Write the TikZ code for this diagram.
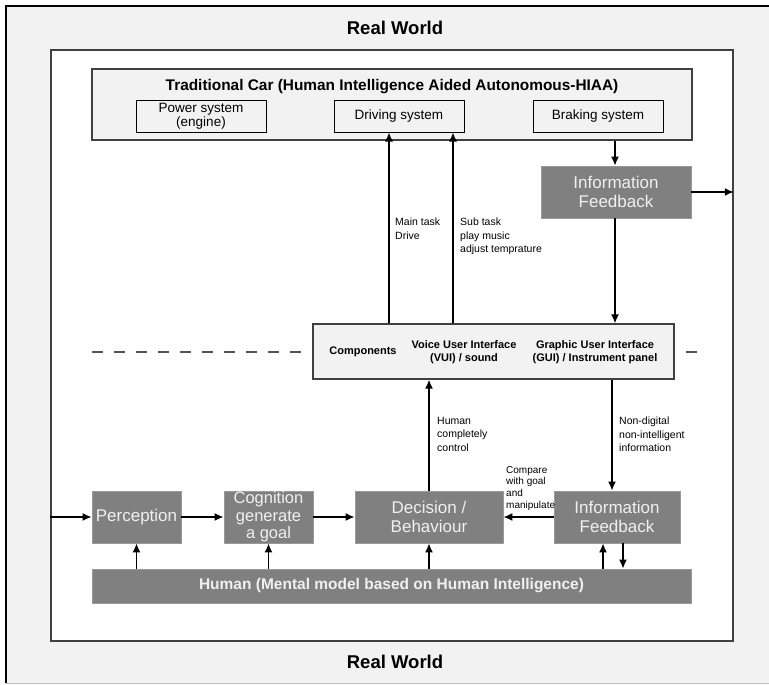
\documentclass[tikz,border=0pt]{standalone}
\usepackage{fontspec}
\setmainfont{Liberation Sans}
\usepackage{xcolor}
\usepackage{tikz}
\usetikzlibrary{arrows.meta}
\definecolor{bgGray}{HTML}{F2F2F2}
\definecolor{boxGray}{HTML}{808080}
\definecolor{lineGray}{HTML}{404040}
\definecolor{boxText}{HTML}{F0F0F0}

\begin{document}
\begin{tikzpicture}[x=1pt,y=-1pt]
	\tikzstyle{every node}=[font=\fontsize{10.5}{13.5}\selectfont, inner sep=0pt];
	\tikzstyle{worldtitle}=[font=\bfseries\fontsize{18.5}{20}\selectfont]
	\tikzstyle{lightbox}=[draw=lineGray, line width=1.3pt, fill=bgGray]
	\tikzstyle{subbox}=[draw=black, line width=1pt, fill=bgGray, minimum width=130pt, minimum height=31pt, align=center, font=\fontsize{13.5}{14}\selectfont]
	\tikzstyle{graybox}=[fill=boxGray, draw=boxGray!80!white, line width=0.8pt, minimum height=52pt, align=center, text=boxText, font=\fontsize{17}{19.5}\selectfont]
	\tikzstyle{arrow}=[-{Latex[length=9pt,width=8pt]}, line width=1.5pt]
	\tikzstyle{note}=[anchor=north west, align=left]
	\useasboundingbox (0,0) rectangle (769,685);
	
	%Real World
	\fill[bgGray] (6,6) rectangle (769,683);
	\draw[line width=1.6pt] (769,6) -- (6,6) -- (6,683);
	\draw[line width=1pt, lightgray] (6,683) -- (769,683);
	\node[worldtitle] (rwTop) at (395,28) {Real World};
	\node[worldtitle] (rwBot) at (395,662) {Real World};
	\node[draw=lineGray, line width=1.5pt, fill=white, minimum width=682pt, minimum height=591pt] (world) at (392,345.5) {};
	
	%Car
	\node[lightbox, minimum width=600pt, minimum height=71pt] (car) at (392,104.5) {};
	\node[font=\bfseries\fontsize{15.4}{17}\selectfont] (carTitle) at (392,87) {Traditional Car (Human Intelligence Aided Autonomous-HIAA)};
	\node[subbox] (power) at (201,116.5) {Power system\\(engine)};
	\node[subbox] (driving) at (399,116.5) {Driving system};
	\node[subbox] (braking) at (598,116.5) {Braking system};
	\node[graybox, minimum width=150pt] (infoTop) at (616,192) {Information\\Feedback};
	
	%Interface
	\coordinate (dashL) at (92,352);
	\coordinate (dashR) at (700,352);
	\draw[line width=1.6pt, lineGray!90!white, dash pattern=on 11pt off 11pt] (dashL) -- (dashR);
	\node[lightbox, minimum width=361pt, minimum height=55pt] (comp) at (493.5,351.5) {};
	\node[font=\bfseries\fontsize{11}{13.5}\selectfont] (compText) at (363,352) {Components};
	\node[font=\bfseries\fontsize{11}{13.5}\selectfont, align=center] (vui) at (464,352) {Voice User Interface\\(VUI) / sound};
	\node[font=\bfseries\fontsize{11}{13.5}\selectfont, align=center] (gui) at (595,352) {Graphic User Interface\\(GUI) / Instrument panel};
	
	%Human
	\node[graybox, minimum width=89pt] (perception) at (136.5,517) {Perception};
	\node[graybox, minimum width=89pt, font=\fontsize{16.5}{17.5}\selectfont] (cognition) at (268.5,517) {Cognition\\generate\\a goal};
	\node[graybox, minimum width=148pt] (decision) at (429,517) {Decision /\\Behaviour};
	\node[graybox, minimum width=126pt] (infoBot) at (617,517) {Information\\Feedback};
	\node[graybox, minimum width=599pt, minimum height=34pt, font=\bfseries\fontsize{15.5}{17}\selectfont] (human) at (391.5,586) {Human (Mental model based on Human Intelligence)};
	
	%Lines
	\coordinate (mainX) at (389,0);
	\coordinate (subX) at (453,0);
	\coordinate (fbX) at (615,0);
	\coordinate (ndX) at (612,0);
	\draw[arrow] (mainX |- comp.north) -- (mainX |- driving.south);
	\draw[arrow] (subX |- comp.north) -- (subX |- driving.south);
	\draw[arrow] (fbX |- car.south) -- (fbX |- infoTop.north);
	\draw[arrow] (infoTop.east) -- (infoTop.east -| world.east);
	\draw[arrow] (fbX |- infoTop.south) -- (fbX |- comp.north);
	\draw[arrow] (decision.north) -- (decision.north |- comp.south);
	\draw[arrow] (ndX |- comp.south) -- (ndX |- infoBot.north);
	\draw[arrow] (perception.west -| world.west) -- (perception.west);
	\draw[arrow] (perception.east) -- (cognition.west);
	\draw[arrow] (cognition.east) -- (decision.west);
	\draw[arrow] (infoBot.west) -- (decision.east);
	\draw[arrow] (human.north -| perception.south) -- (perception.south);
	\draw[arrow] (human.north -| cognition.south) -- (cognition.south);
	\draw[arrow] (human.north -| decision.south) -- (decision.south);
	\coordinate (upX) at (603,0);
	\coordinate (downX) at (623,0);
	\draw[arrow] (upX |- human.north) -- (upX |- infoBot.south);
	\draw[arrow] (downX |- infoBot.south) -- (downX |- human.north);
	
	%Labels
	\node[note] (mainLbl) at (395,218) {Main task\\Drive};
	\node[note] (subLbl) at (460,218) {Sub task\\play music\\adjust temprature};
	\node[note] (ctrlLbl) at (437,417) {Human\\completely\\control};
	\node[note] (ndLbl) at (619,417) {Non-digital\\non-intelligent\\information};
	\node[note, font=\fontsize{10}{11.8}\selectfont] (cmpLbl) at (506,466) {Compare\\with goal\\and\\manipulate};
	
\end{tikzpicture}
\end{document}
